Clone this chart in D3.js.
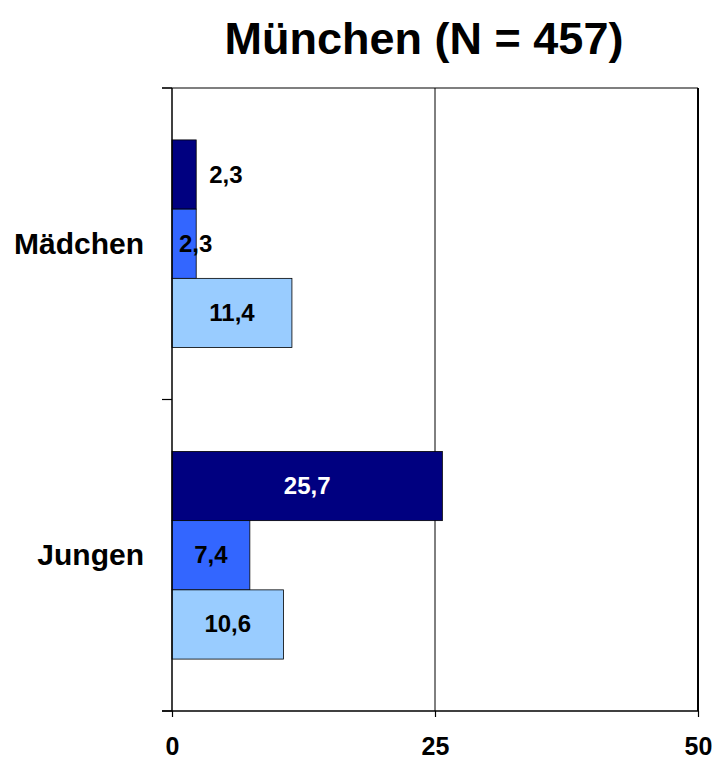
<!DOCTYPE html>
<html>
<head>
<meta charset="utf-8">
<script src="https://cdn.jsdelivr.net/npm/d3@7"></script>
<style>
  body { margin: 0; background: #fff; }
  text { font-family: Arial, "Liberation Sans", sans-serif; font-weight: bold; }
</style>
</head>
<body>
<script>
const width = 716
const height = 759

// data
const groups = ["Mädchen", "Jungen"];
const seriesNames = ["s1", "s2", "s3"];
const valuesMaedchen = [2.3, 2.3, 11.4];
const valuesJungen = [25.7, 7.4, 10.6];
const xTicks = [0, 25, 50];
const colors = ["#000080", "#3366FF", "#99CCFF"];

const rows = [
    { group: groups[0], values: valuesMaedchen },
    { group: groups[1], values: valuesJungen }
];

const margin = { top: 88, right: 18, bottom: 48, left: 172 };

const svg = d3.select("body").append("svg")
    .attr("width", width)
    .attr("height", height);

const x = d3.scaleLinear()
    .domain([0, 50])
    .range([margin.left, width - margin.right]);

const y = d3.scaleBand()
    .domain(groups)
    .range([margin.top, height - margin.bottom])
    .paddingInner(0)
    .paddingOuter(0);

const inner = d3.scaleBand()
    .domain(seriesNames)
    .range([0, y.bandwidth()])
    .paddingOuter(0.75)
    .paddingInner(0);

// title
svg.append("text")
    .attr("x", 424)
    .attr("y", 54)
    .attr("text-anchor", "middle")
    .style("font-size", "45px")
    .text("München (N = 457)");

// frame lines
const plotTop = margin.top, plotBottom = height - margin.bottom;
svg.append("line")
    .attr("x1", margin.left - 10).attr("x2", x(50))
    .attr("y1", plotTop).attr("y2", plotTop)
    .attr("stroke", "#000").attr("stroke-width", 1.2);
svg.append("line")
    .attr("x1", x(50)).attr("x2", x(50))
    .attr("y1", plotTop).attr("y2", plotBottom)
    .attr("stroke", "#000").attr("stroke-width", 2);
svg.append("line")
    .attr("x1", x(25)).attr("x2", x(25))
    .attr("y1", plotTop).attr("y2", plotBottom)
    .attr("stroke", "#000").attr("stroke-width", 1);

// bars
const g = svg.selectAll("g.grp")
    .data(rows)
    .enter().append("g")
    .attr("transform", d => `translate(0,${y(d.group)})`);

g.selectAll("rect")
    .data(d => d.values.map((v, i) => ({ v, i })))
    .enter().append("rect")
    .attr("x", x(0))
    .attr("y", d => inner(seriesNames[d.i]))
    .attr("width", d => x(d.v) - x(0))
    .attr("height", inner.bandwidth())
    .attr("fill", d => colors[d.i])
    .attr("stroke", "#000")
    .attr("stroke-width", 0.8);

g.selectAll("text.val")
    .data(d => d.values.map((v, i) => ({ v, i })))
    .enter().append("text")
    .attr("class", "val")
    .attr("x", d => {
        const w = x(d.v) - x(0);
        if (w < 40) return d.i === 0 ? x(d.v) + 13 : x(0) + 7;
        return x(0) + w / 2;
    })
    .attr("text-anchor", d => (x(d.v) - x(0) < 40) ? "start" : "middle")
    .attr("y", d => inner(seriesNames[d.i]) + inner.bandwidth() / 2 + 8)
    .attr("fill", d => (d.i === 0 && x(d.v) - x(0) >= 40) ? "#fff" : "#000")
    .style("font-size", "24px")
    .text(d => d3.format(".1f")(d.v).replace(".", ","));

// y axis
const yAxis = svg.append("g")
    .attr("transform", `translate(${margin.left},0)`);
yAxis.append("line")
    .attr("x1", 0).attr("x2", 0)
    .attr("y1", plotTop).attr("y2", plotBottom)
    .attr("stroke", "#000").attr("stroke-width", 1.5);
yAxis.selectAll("line.tick")
    .data([plotTop, y(groups[1]), plotBottom])
    .enter().append("line")
    .attr("x1", -10).attr("x2", 0)
    .attr("y1", d => d).attr("y2", d => d)
    .attr("stroke", "#000").attr("stroke-width", 1.2);
yAxis.selectAll("text")
    .data(groups)
    .enter().append("text")
    .attr("x", -28)
    .attr("y", d => y(d) + y.bandwidth() / 2 + 10)
    .attr("text-anchor", "end")
    .style("font-size", "30px")
    .text(d => d);

// x axis
const xAxis = svg.append("g")
    .attr("transform", `translate(0,${plotBottom})`)
    .call(d3.axisBottom(x).tickValues(xTicks).tickSize(6).tickPadding(38).tickFormat(d3.format("d")));
xAxis.select(".domain")
    .attr("d", `M${margin.left - 10},0H${x(50)}`)
    .attr("stroke-width", 1.5);
xAxis.selectAll(".tick line").attr("stroke-width", 1.2);
xAxis.selectAll(".tick text")
    .attr("dy", null)
    .style("font-size", "25px")
    .style("font-family", "Arial, 'Liberation Sans', sans-serif")
    .style("font-weight", "bold");
</script>
</body>
</html>
